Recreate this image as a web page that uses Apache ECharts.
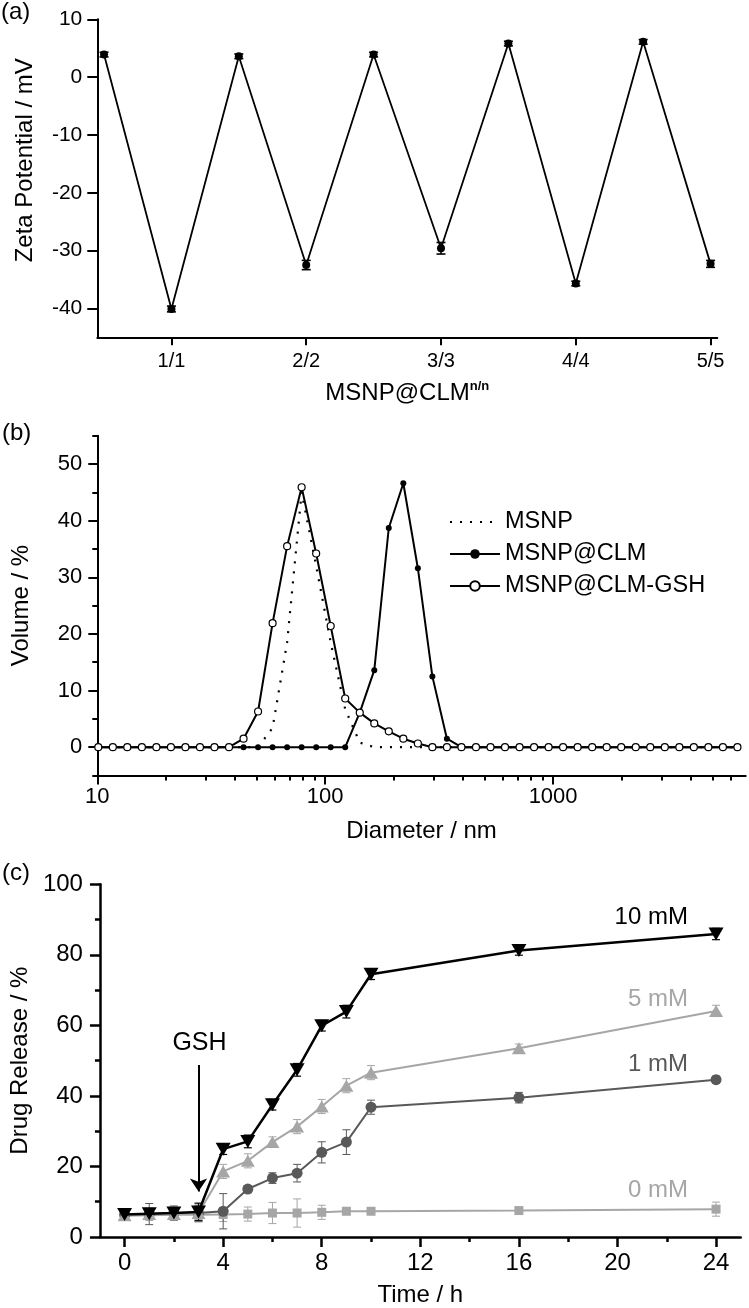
<!DOCTYPE html>
<html><head><meta charset="utf-8">
<script src="https://cdn.jsdelivr.net/npm/echarts@6/dist/echarts.min.js"></script>
<style>html,body{margin:0;padding:0;background:#fff}#c{width:749px;height:1308px}</style>
</head><body><div id="c"></div>
<script>
const FONT = '"Liberation Sans", Arial, Helvetica, sans-serif';

// ---------- Panel (a): zeta potential ----------
const aStep = [0.5, 1, 1.5, 2, 2.5, 3, 3.5, 4, 4.5, 5];
const aZeta = [3.9, -40.1, 3.6, -32.5, 3.9, -29.6, 5.8, -35.7, 6.1, -32.3];
const aErr = [0.4, 0.5, 0.4, 0.8, 0.4, 1.0, 0.4, 0.4, 0.4, 0.6];
const aXTicks = [1, 2, 3, 4, 5];
const aXLabels = ['1/1', '2/2', '3/3', '4/4', '5/5'];
const aYTicks = [10, 0, -10, -20, -30, -40];

// ---------- Panel (b): size distribution ----------
const bDiameter = [10.10, 11.70, 13.54, 15.69, 18.17, 21.04, 24.36, 28.21, 32.67, 37.84,
  43.82, 50.75, 58.77, 68.06, 78.82, 91.28, 105.7, 122.4, 141.8, 164.2,
  190.1, 220.2, 255.0, 295.3, 342.0, 396.1, 458.7, 531.2, 615.1, 712.4,
  825.0, 955.4, 1106, 1281, 1484, 1718, 1990, 2305, 2669, 3091,
  3580, 4145, 4801, 5560, 6439];
const bMSNP = [0, 0, 0, 0, 0, 0, 0, 0, 0, 0,
  0, 0, 3.4, 18.5, 45.0, 32.0, 18.5, 6.7, 0.8, 0,
  0, 0, 0, 0, 0, 0, 0, 0, 0, 0,
  0, 0, 0, 0, 0, 0, 0, 0, 0, 0,
  0, 0, 0, 0, 0];
const bCLM = [0, 0, 0, 0, 0, 0, 0, 0, 0, 0,
  0, 0, 0, 0, 0, 0, 0, 0, 6.1, 13.6,
  38.7, 46.6, 31.6, 12.5, 1.5, 0, 0, 0, 0, 0,
  0, 0, 0, 0, 0, 0, 0, 0, 0, 0,
  0, 0, 0, 0, 0];
const bGSH = [0, 0, 0, 0, 0, 0, 0, 0, 0, 0,
  1.5, 6.3, 21.9, 35.5, 45.9, 34.2, 21.4, 8.6, 6.1, 4.2,
  2.8, 1.5, 0.65, 0, 0, 0, 0, 0, 0, 0,
  0, 0, 0, 0, 0, 0, 0, 0, 0, 0,
  0, 0, 0, 0, 0];
const bXMajor = [10, 100, 1000];
const bXMinor = [20, 30, 40, 50, 60, 70, 80, 90, 200, 300, 400, 500, 600, 700, 800, 900,
  2000, 3000, 4000, 5000, 6000];
const bYMajor = [0, 10, 20, 30, 40, 50];
const bYMinor = [-5, 5, 15, 25, 35, 45, 55];

// ---------- Panel (c): drug release ----------
const cTime = [0, 1, 2, 3, 4, 5, 6, 7, 8, 9, 10, 16, 24];
const c10 = [6.4, 6.6, 6.8, 7.1, 24.9, 27.1, 37.5, 47.4, 59.9, 63.9, 74.5, 81.2, 85.9];
const c10Err = [1.5, 1.5, 1.5, 2.5, 1.5, 1.8, 1.5, 1.8, 1.5, 1.8, 1.5, 1.3, 1.6];
const c5 = [6.2, 6.5, 6.5, 6.8, 18.6, 21.6, 26.9, 31.3, 37.0, 42.9, 46.6, 53.5, 64.1];
const c5Err = [1.5, 1.5, 1.5, 2.5, 2.0, 2.0, 1.5, 2.0, 2.0, 2.0, 2.0, 1.2, 1.6];
const c1 = [6.3, 6.5, 6.8, 6.8, 7.3, 13.6, 16.7, 18.1, 24.0, 26.9, 36.8, 39.5, 44.6];
const c1Err = [1.5, 3.0, 2.0, 2.0, 5.0, 1.0, 1.5, 2.5, 3.0, 3.5, 2.0, 1.5, 1.0];
const c0 = [6.0, 6.2, 6.3, 6.3, 6.4, 6.5, 6.8, 6.8, 7.0, 7.3, 7.3, 7.5, 7.9];
const c0Err = [1.0, 1.5, 1.5, 2.0, 2.0, 2.0, 3.0, 4.0, 2.0, 0.8, 0.8, 0.8, 2.0];
const cXMajor = [0, 4, 8, 12, 16, 20, 24];
const cXMinor = [2, 6, 10, 14, 18, 22];
const cLabelX = 22.86;
const cLabelY = { '10 mM': 90.5, '5 mM': 67.3, '1 mM': 48.9, '0 mM': 13.1 };
const gshArrow = { x: 3, from: 48.8, to: 12.9, textY: 55.1, textX: 3.04 };

// ---------- helpers ----------
function errRender(color, cap, lw) {
  return function (params, api) {
    const x = api.value(0), y = api.value(1), e = api.value(2);
    const hi = api.coord([x, y + e]), lo = api.coord([x, y - e]);
    const st = { stroke: color, lineWidth: lw, fill: null };
    return { type: 'group', children: [
      { type: 'line', shape: { x1: hi[0], y1: hi[1], x2: lo[0], y2: lo[1] }, style: st },
      { type: 'line', shape: { x1: hi[0] - cap, y1: hi[1], x2: hi[0] + cap, y2: hi[1] }, style: st },
      { type: 'line', shape: { x1: lo[0] - cap, y1: lo[1], x2: lo[0] + cap, y2: lo[1] }, style: st }
    ] };
  };
}
const zip2 = (xs, ys) => xs.map((x, i) => [x, ys[i]]);
const zip3 = (xs, ys, es) => xs.map((x, i) => [x, ys[i], es[i]]);
const axLine = { onZero: false, lineStyle: { color: '#000', width: 2 } };
const axLineC = { onZero: false, lineStyle: { color: '#000', width: 2.5 } };
const noLine = { show: false, onZero: false };
const lbl = (size, margin) => ({ color: '#000', fontSize: size, fontFamily: FONT, margin: margin });
const nameStyle = { color: '#000', fontSize: 24, fontFamily: FONT };

function labelPoint(name, color) {
  return {
    symbol: 'rect', symbolSize: 0, silent: true, animation: false,
    label: { show: true, position: 'inside', align: 'right', verticalAlign: 'middle',
      formatter: name, color: color, fontSize: 24, fontFamily: FONT },
    data: [{ coord: [cLabelX, cLabelY[name]] }]
  };
}

const chart = echarts.init(document.getElementById('c'), null, { renderer: 'canvas' });
chart.setOption({
  animation: false,
  backgroundColor: '#fff',
  title: [
    { text: '(a)', left: 1, top: 0, padding: 0, textStyle: { fontSize: 24, fontWeight: 'normal', fontFamily: FONT, color: '#000' } },
    { text: '(b)', left: 2, top: 421, padding: 0, textStyle: { fontSize: 24, fontWeight: 'normal', fontFamily: FONT, color: '#000' } },
    { text: '(c)', left: 2, top: 861, padding: 0, textStyle: { fontSize: 24, fontWeight: 'normal', fontFamily: FONT, color: '#000' } }
  ],
  legend: {
    data: [
      { name: 'MSNP', itemStyle: { opacity: 0 } },
      { name: 'MSNP@CLM' },
      { name: 'MSNP@CLM-GSH' }
    ],
    orient: 'vertical', left: 449, top: 510, padding: 0,
    itemWidth: 50, itemHeight: 12, itemGap: 8,
    textStyle: { fontSize: 23.5, fontFamily: FONT, color: '#000', lineHeight: 23 }
  },
  grid: [
    { left: 97.3, top: 19.3, width: 620, height: 318, containLabel: false },
    { left: 97.3, top: 435.7, width: 648.4, height: 339.8, containLabel: false },
    { left: 99.3, top: 884.3, width: 641.4, height: 353.7, containLabel: false }
  ],
  xAxis: [
    { gridIndex: 0, type: 'value', min: 0.45, max: 5.05, position: 'bottom',
      axisLine: axLine, splitLine: { show: false },
      axisTick: { customValues: aXTicks, length: 8, lineStyle: { width: 2, color: '#000' } },
      axisLabel: Object.assign(lbl(20, 14), { customValues: aXTicks,
        formatter: v => aXLabels[aXTicks.indexOf(Math.round(v))] }),
      name: '{b|MSNP@CLM}{s|n/n}', nameLocation: 'middle', nameGap: 43,
      nameTextStyle: { rich: {
        b: { fontSize: 24, fontFamily: FONT, color: '#000', lineHeight: 26 },
        s: { fontSize: 13, fontWeight: 'bold', fontFamily: FONT, color: '#000', verticalAlign: 'top', lineHeight: 26 } } } },
    { gridIndex: 1, type: 'log', logBase: 10, min: 10, max: 7000, position: 'bottom',
      axisLine: axLine, splitLine: { show: false }, minorTick: { show: false },
      axisTick: { customValues: bXMajor, length: 9, lineStyle: { width: 2, color: '#000' } },
      axisLabel: Object.assign(lbl(22, 10), { customValues: bXMajor, formatter: v => String(Math.round(v)) }),
      name: 'Diameter / nm', nameLocation: 'middle', nameGap: 44, nameTextStyle: nameStyle },
    { gridIndex: 1, type: 'log', logBase: 10, min: 10, max: 7000, position: 'bottom',
      axisLine: noLine, splitLine: { show: false }, axisLabel: { show: false },
      axisTick: { customValues: bXMinor, length: 5, lineStyle: { width: 2, color: '#000' } } },
    { gridIndex: 2, type: 'value', min: -1, max: 25, position: 'bottom',
      axisLine: axLineC, splitLine: { show: false },
      axisTick: { customValues: cXMajor, length: 10, lineStyle: { width: 2.5, color: '#000' } },
      axisLabel: Object.assign(lbl(24, 14), { customValues: cXMajor }),
      name: 'Time / h', nameLocation: 'middle', nameGap: 46, nameTextStyle: nameStyle },
    { gridIndex: 2, type: 'value', min: -1, max: 25, position: 'bottom',
      axisLine: noLine, splitLine: { show: false }, axisLabel: { show: false },
      axisTick: { customValues: cXMinor, length: 5, lineStyle: { width: 2.5, color: '#000' } } }
  ],
  yAxis: [
    { gridIndex: 0, type: 'value', min: -45, max: 10, position: 'left',
      axisLine: axLine, splitLine: { show: false },
      axisTick: { customValues: aYTicks, length: 10, lineStyle: { width: 2, color: '#000' } },
      axisLabel: Object.assign(lbl(21, 15), { customValues: aYTicks }),
      name: 'Zeta Potential / mV', nameLocation: 'middle', nameGap: 60,
      nameTextStyle: Object.assign({ padding: [0, 0, 0, 36] }, nameStyle) },
    { gridIndex: 1, type: 'value', min: -5, max: 55, position: 'left',
      axisLine: axLine, splitLine: { show: false },
      axisTick: { customValues: bYMajor, length: 9, lineStyle: { width: 2, color: '#000' } },
      axisLabel: Object.assign(lbl(22, 15), { customValues: bYMajor }),
      name: 'Volume / %', nameLocation: 'middle', nameGap: 64, nameTextStyle: nameStyle },
    { gridIndex: 1, type: 'value', min: -5, max: 55, position: 'left',
      axisLine: noLine, splitLine: { show: false }, axisLabel: { show: false },
      axisTick: { customValues: bYMinor, length: 5, lineStyle: { width: 2, color: '#000' } } },
    { gridIndex: 2, type: 'value', min: 0, max: 100, interval: 20, position: 'left',
      axisLine: axLineC, splitLine: { show: false },
      axisTick: { length: 10, lineStyle: { width: 2.5, color: '#000' } },
      minorTick: { show: true, splitNumber: 2, length: 5, lineStyle: { width: 2.5, color: '#000' } },
      minorSplitLine: { show: false },
      axisLabel: lbl(24, 17),
      name: 'Drug Release / %', nameLocation: 'middle', nameGap: 63, nameTextStyle: nameStyle }
  ],
  series: [
    // panel (a)
    { type: 'custom', xAxisIndex: 0, yAxisIndex: 0, z: 1, silent: true,
      renderItem: errRender('#000', 4.5, 1.6), data: zip3(aStep, aZeta, aErr) },
    { type: 'line', name: 'Zeta', xAxisIndex: 0, yAxisIndex: 0, z: 2,
      data: zip2(aStep, aZeta), symbol: 'circle', symbolSize: 8,
      itemStyle: { color: '#000' }, lineStyle: { color: '#000', width: 1.8 } },
    // panel (b)
    { type: 'line', name: 'MSNP', xAxisIndex: 1, yAxisIndex: 1, z: 2,
      data: zip2(bDiameter, bMSNP), symbol: 'none', showSymbol: false,
      itemStyle: { color: '#000' }, lineStyle: { color: '#000', width: 2.2, type: [2, 8] } },
    { type: 'line', name: 'MSNP@CLM', xAxisIndex: 1, yAxisIndex: 1, z: 3,
      data: zip2(bDiameter, bCLM), symbol: 'circle', symbolSize: 6,
      itemStyle: { color: '#000' }, lineStyle: { color: '#000', width: 2 } },
    { type: 'line', name: 'MSNP@CLM-GSH', xAxisIndex: 1, yAxisIndex: 1, z: 4,
      data: zip2(bDiameter, bGSH), symbol: 'circle', symbolSize: 7,
      itemStyle: { color: '#fff', borderColor: '#000', borderWidth: 1.2 },
      lineStyle: { color: '#000', width: 2 } },
    // panel (c) error bars
    { type: 'custom', xAxisIndex: 3, yAxisIndex: 3, z: 1, silent: true,
      renderItem: errRender('#a6a6a6', 4, 1), data: zip3(cTime, c0, c0Err) },
    { type: 'custom', xAxisIndex: 3, yAxisIndex: 3, z: 1, silent: true,
      renderItem: errRender('#595959', 4, 1), data: zip3(cTime, c1, c1Err) },
    { type: 'custom', xAxisIndex: 3, yAxisIndex: 3, z: 1, silent: true,
      renderItem: errRender('#a6a6a6', 4, 1), data: zip3(cTime, c5, c5Err) },
    { type: 'custom', xAxisIndex: 3, yAxisIndex: 3, z: 1, silent: true,
      renderItem: errRender('#000', 4, 1.2), data: zip3(cTime, c10, c10Err) },
    // panel (c) lines
    { type: 'line', name: '0 mM', xAxisIndex: 3, yAxisIndex: 3, z: 2,
      data: zip2(cTime, c0), symbol: 'rect', symbolSize: 9,
      itemStyle: { color: '#a6a6a6' }, lineStyle: { color: '#a6a6a6', width: 2 },
      markPoint: labelPoint('0 mM', '#a6a6a6') },
    { type: 'line', name: '1 mM', xAxisIndex: 3, yAxisIndex: 3, z: 3,
      data: zip2(cTime, c1), symbol: 'circle', symbolSize: 11,
      itemStyle: { color: '#595959' }, lineStyle: { color: '#595959', width: 2 },
      markPoint: labelPoint('1 mM', '#595959') },
    { type: 'line', name: '5 mM', xAxisIndex: 3, yAxisIndex: 3, z: 4,
      data: zip2(cTime, c5), symbol: 'triangle', symbolSize: [14, 12],
      itemStyle: { color: '#a6a6a6' }, lineStyle: { color: '#a6a6a6', width: 2 },
      markPoint: labelPoint('5 mM', '#a6a6a6') },
    { type: 'line', name: '10 mM', xAxisIndex: 3, yAxisIndex: 3, z: 5,
      data: zip2(cTime, c10), symbol: 'triangle', symbolRotate: 180, symbolSize: [15, 13],
      itemStyle: { color: '#000' }, lineStyle: { color: '#000', width: 2.5 },
      markPoint: {
        symbol: 'rect', symbolSize: 0, silent: true,
        label: { show: true, position: 'inside', align: 'right', verticalAlign: 'middle',
          color: '#000', fontSize: 24, fontFamily: FONT },
        data: [
          { coord: [cLabelX, cLabelY['10 mM']], label: { formatter: '10 mM' } },
          { coord: [gshArrow.textX, gshArrow.textY], label: { formatter: 'GSH', align: 'center', fontSize: 25 } }
        ] },
      markLine: {
        silent: true, symbol: ['none', 'arrow'], symbolSize: 13,
        label: { show: false },
        lineStyle: { color: '#000', width: 2, type: 'solid' },
        data: [[{ coord: [gshArrow.x, gshArrow.from] }, { coord: [gshArrow.x, gshArrow.to] }]] } }
  ]
});
</script>
</body></html>
